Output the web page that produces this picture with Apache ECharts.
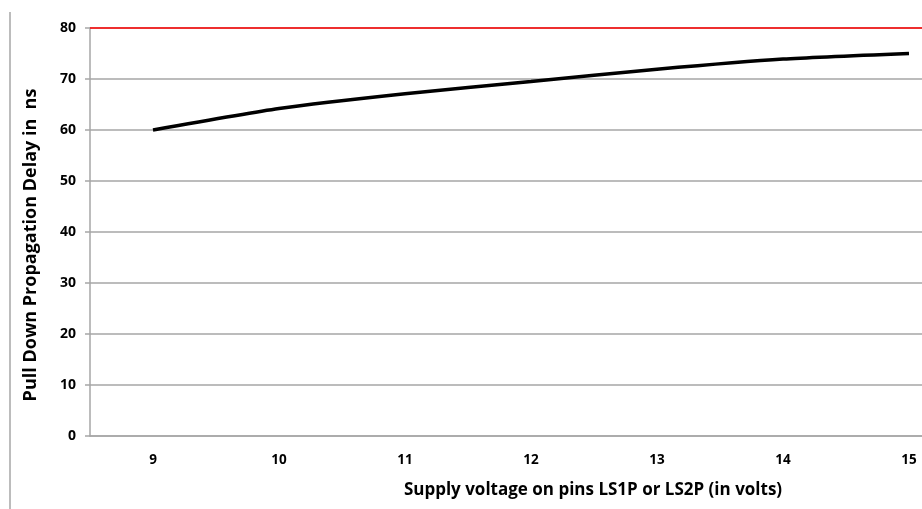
<!DOCTYPE html>
<html>
<head>
<meta charset="utf-8">
<script src="https://cdn.jsdelivr.net/npm/echarts@6/dist/echarts.min.js"></script>
<style>
  html, body { margin: 0; padding: 0; background: #fff; }
  #chart { width: 922px; height: 509px; }
</style>
</head>
<body>
<div id="chart"></div>
<script>
// Supply voltage steps (volts)
const voltages = ['9', '10', '11', '12', '13', '14', '15'];
// Pull-down propagation delay (ns) at each voltage
const delayNs = [60, 64.2, 67.1, 69.5, 71.9, 73.9, 75.0];
// Delay limit drawn as a red line
const limitNs = 80;
const yTicks = { min: 0, max: 80, interval: 10 };

const FONT = '"Open Sans", "DejaVu Sans", sans-serif';

const chart = echarts.init(document.getElementById('chart'), null, { renderer: 'canvas' });
chart.setOption({
  animation: false,
  backgroundColor: '#ffffff',
  // plot area runs past the right edge of the canvas
  grid: { left: 90, top: 28, width: 882, bottom: 73, containLabel: false, outerBoundsMode: 'none' },
  xAxis: {
    type: 'category',
    data: voltages,
    boundaryGap: true,
    axisLine: { show: true, lineStyle: { color: '#a6a6a6', width: 1.5 } },
    axisTick: { show: false },
    axisLabel: { color: '#000', fontFamily: FONT, fontWeight: 'bold', fontSize: 13.5, margin: 17 },
    splitLine: { show: false }
  },
  yAxis: {
    type: 'value',
    min: yTicks.min, max: yTicks.max, interval: yTicks.interval,
    axisLine: { show: true, lineStyle: { color: '#a6a6a6', width: 1.5 } },
    axisTick: { show: true, length: 5, lineStyle: { color: '#a6a6a6', width: 1.5 } },
    axisLabel: { color: '#000', fontFamily: FONT, fontWeight: 'bold', fontSize: 14, margin: 14 },
    splitLine: { show: true, lineStyle: { color: '#a6a6a6', width: 1.5 } }
  },
  series: [{
    type: 'line',
    data: delayNs,
    smooth: 0.2,
    symbol: 'none',
    lineStyle: { color: '#000', width: 3.5 },
    markLine: {
      silent: true,
      symbol: 'none',
      label: { show: false },
      lineStyle: { color: '#ff0000', width: 1.5, type: 'solid' },
      data: [{ yAxis: limitNs }]
    }
  }],
  graphic: [
    {
      type: 'line',
      shape: { x1: 10, y1: 12, x2: 10, y2: 509 },
      style: { stroke: '#a6a6a6', lineWidth: 1.5 }
    },
    {
      type: 'text',
      x: 593, y: 490,
      style: {
        text: 'Supply voltage on pins LS1P or LS2P (in volts)',
        fill: '#000', font: 'bold 17px ' + FONT,
        align: 'center', verticalAlign: 'middle'
      }
    },
    {
      type: 'text',
      x: 31, y: 245,
      rotation: Math.PI / 2,
      style: {
        text: 'Pull Down Propagation Delay in  ns',
        fill: '#000', font: 'bold 18px ' + FONT,
        align: 'center', verticalAlign: 'middle'
      }
    }
  ]
});
</script>
</body>
</html>
